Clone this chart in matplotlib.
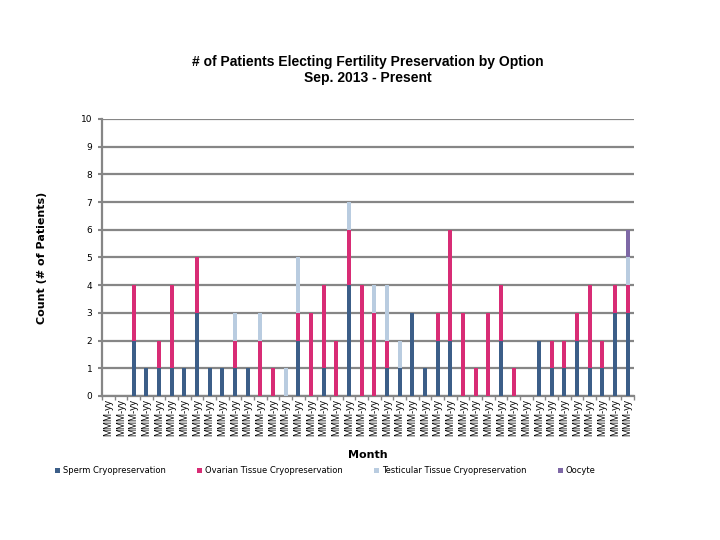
import numpy as np
import matplotlib
matplotlib.use("Agg")
import matplotlib.pyplot as plt

months = ["MMM-yy"] * 42
sperm = [0, 0, 2, 1, 1, 1, 1, 3, 1, 1, 1, 1, 0, 0, 0, 2, 0, 1, 0, 4, 0,
         0, 1, 1, 3, 1, 2, 2, 0, 0, 0, 2, 0, 0, 2, 1, 1, 2, 1, 1, 3, 3]
ovarian = [0, 0, 2, 0, 1, 3, 0, 2, 0, 0, 1, 0, 2, 1, 0, 1, 3, 3, 2, 2, 4,
           3, 1, 0, 0, 0, 1, 4, 3, 1, 3, 2, 1, 0, 0, 1, 1, 1, 3, 1, 1, 1]
testicular = [0, 0, 0, 0, 0, 0, 0, 0, 0, 0, 1, 0, 1, 0, 1, 2, 0, 0, 0, 1, 0,
              1, 2, 1, 0, 0, 0, 0, 0, 0, 0, 0, 0, 0, 0, 0, 0, 0, 0, 0, 0, 1]
oocyte = [0] * 41 + [1]

series = [("Sperm Cryopreservation", sperm, "#3C5E88"),
          ("Ovarian Tissue Cryopreservation", ovarian, "#D82C75"),
          ("Testicular Tissue Cryopreservation", testicular, "#B9CCE0"),
          ("Oocyte", oocyte, "#7E68A6")]

fig = plt.figure(figsize=(7.2, 5.4), dpi=100)
ax = fig.add_axes([0.1417, 0.2667, 0.7389, 0.513])

x = np.arange(len(months))
bottom = np.zeros(len(months))
for name, vals, col in series:
    vals = np.array(vals)
    ax.bar(x, vals, width=0.32, bottom=bottom, color=col, label=name, zorder=3)
    bottom += vals

ax.set_xlim(-0.5, len(months) - 0.5)
ax.set_ylim(0, 10)
ax.set_yticks(range(0, 11))
ax.tick_params(axis="y", labelsize=6.5, length=3, color="#868686", width=1.5, pad=4)
ax.set_xticks(x)
ax.set_xticklabels(months, rotation=90, fontsize=7, family="Liberation Sans")
ax.tick_params(axis="x", length=0, pad=2)
ax.set_xticks(np.arange(-0.5, len(months)), minor=True)
ax.tick_params(axis="x", which="minor", length=3, color="#868686", width=1)
ax.yaxis.grid(True, color="#868686", linewidth=1.6, zorder=0)
ax.set_axisbelow(True)
for s in ["top", "right"]:
    ax.spines[s].set_visible(False)
ax.spines["left"].set_color("#868686")
ax.spines["left"].set_linewidth(1.6)
ax.spines["bottom"].set_color("#868686")
ax.spines["bottom"].set_linewidth(1.6)

ax.set_ylabel("Count (# of Patients)", fontsize=8, fontweight="bold", labelpad=24)
ax.set_xlabel("Month", fontsize=8, fontweight="bold", labelpad=10)

fig.suptitle("# of Patients Electing Fertility Preservation by Option\nSep. 2013 - Present",
             x=0.511, y=0.898, fontsize=10, fontweight="bold", family="Liberation Sans")

fig.legend(loc="upper left", bbox_to_anchor=(0.072, 0.143), ncol=4, frameon=False,
           fontsize=6, handlelength=0.6, handleheight=0.6, handletextpad=0.3,
           columnspacing=3.8, borderaxespad=0)

fig.savefig("out.png", dpi=100)
